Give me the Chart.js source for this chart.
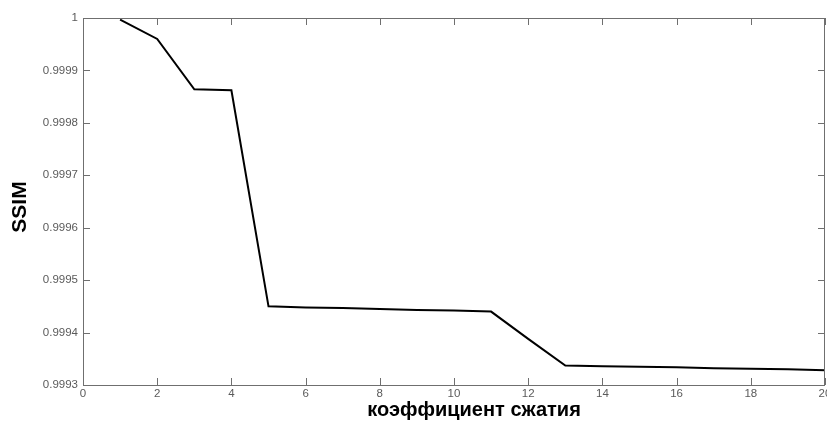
<!DOCTYPE html>
<html>
<head>
<meta charset="utf-8">
<script src="https://cdn.jsdelivr.net/npm/chart.js@4.4.1/dist/chart.umd.min.js"></script>
<style>
  html, body { margin: 0; padding: 0; background: #fff; }
  #wrap { width: 827px; height: 422px; }
</style>
</head>
<body>
<div id="wrap"><canvas id="chart" width="827" height="422"></canvas></div>
<script>
// compression ratio vs SSIM
const ratios = [1, 2, 3, 4, 5, 6, 7, 8, 9, 10, 11, 12, 13, 14, 15, 16, 17, 18, 19, 20];
const ssim = [
  0.999997, 0.99996, 0.999864, 0.999862, 0.99945,
  0.999448, 0.999447, 0.999445, 0.999443, 0.999442,
  0.99944, 0.999388, 0.999337, 0.999336, 0.999335,
  0.999334, 0.999332, 0.999331, 0.99933, 0.999328
];
const xTicks = [0, 2, 4, 6, 8, 10, 12, 14, 16, 18, 20];
const yTicks = [0.9993, 0.9994, 0.9995, 0.9996, 0.9997, 0.9998, 0.9999, 1];

const X_TITLE = 'коэффициент сжатия';
const Y_TITLE = 'SSIM';
const FRAME = '#6f6f6f';
const TICK_TXT = '#5a5a5a';
const FONT = "'Liberation Sans', Arial, sans-serif";

// frame on all 4 sides, inward ticks, axis titles
const matlabAxes = {
  id: 'matlabAxes',
  afterDraw(chart) {
    const { ctx, chartArea: a, scales: { x, y } } = chart;
    const tl = 7;
    ctx.save();
    ctx.strokeStyle = FRAME;
    ctx.lineWidth = 1;
    ctx.strokeRect(a.left + 0.5, a.top + 0.5, a.right - a.left - 1, a.bottom - a.top);
    ctx.beginPath();
    xTicks.forEach(v => {
      const px = Math.round(x.getPixelForValue(v)) + 0.5;
      ctx.moveTo(px, a.bottom); ctx.lineTo(px, a.bottom - tl);
      ctx.moveTo(px, a.top); ctx.lineTo(px, a.top + tl);
    });
    yTicks.forEach(v => {
      const py = Math.round(y.getPixelForValue(v)) + 0.5;
      ctx.moveTo(a.left, py); ctx.lineTo(a.left + tl, py);
      ctx.moveTo(a.right, py); ctx.lineTo(a.right - tl, py);
    });
    ctx.stroke();

    ctx.fillStyle = '#000';
    ctx.font = `bold 20px ${FONT}`;
    ctx.textAlign = 'center';
    ctx.textBaseline = 'middle';
    ctx.fillText(X_TITLE, 474, 410);

    ctx.translate(20, 207);
    ctx.rotate(-Math.PI / 2);
    ctx.font = `bold 21px ${FONT}`;
    ctx.fillText(Y_TITLE, 0, 0);
    ctx.restore();
  }
};

new Chart(document.getElementById('chart'), {
  type: 'line',
  data: {
    datasets: [{
      data: ratios.map((r, i) => ({ x: r, y: ssim[i] })),
      borderColor: '#000',
      borderWidth: 2,
      pointRadius: 0,
      tension: 0,
      fill: false,
    }]
  },
  options: {
    responsive: false,
    animation: false,
    layout: { padding: { top: 18, right: 2, left: 0, bottom: 0 } },
    plugins: { legend: { display: false }, tooltip: { enabled: false } },
    scales: {
      x: {
        type: 'linear',
        min: 0, max: 20,
        afterBuildTicks: s => { s.ticks = xTicks.map(v => ({ value: v })); },
        afterFit: s => { s.height = 37; s.paddingLeft = 0; s.paddingRight = 0; },
        grid: { display: false, drawTicks: false },
        border: { display: false },
        ticks: {
          color: TICK_TXT, padding: 2, maxRotation: 0, autoSkip: false,
          font: { family: FONT, size: 11.5 },
          callback: v => String(v)
        }
      },
      y: {
        type: 'linear',
        min: 0.9993, max: 1,
        afterBuildTicks: s => { s.ticks = yTicks.map(v => ({ value: v })); },
        afterFit: s => { s.width = 83; s.paddingTop = 0; s.paddingBottom = 0; },
        grid: { display: false, drawTicks: false },
        border: { display: false },
        ticks: {
          color: TICK_TXT, padding: 5, autoSkip: false,
          font: { family: FONT, size: 11.5 },
          callback: v => v === 1 ? '1' : v.toFixed(4)
        }
      }
    }
  },
  plugins: [matlabAxes]
});
</script>
</body>
</html>
